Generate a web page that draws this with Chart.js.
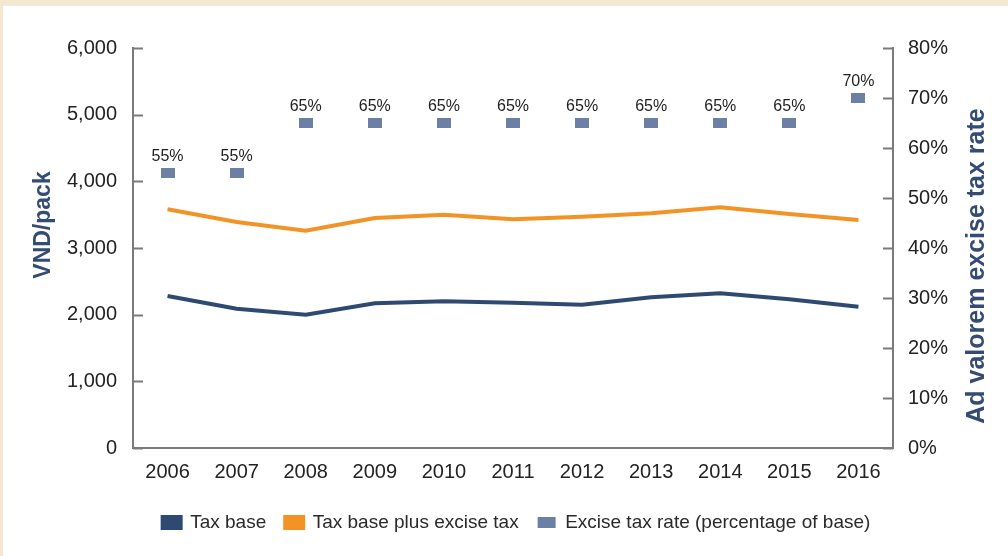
<!DOCTYPE html>
<html>
<head>
<meta charset="utf-8">
<script src="https://cdn.jsdelivr.net/npm/chart.js@4/dist/chart.umd.min.js"></script>
<style>
  html, body { margin: 0; padding: 0; background: #f4e8d3; }
  #panel { position: absolute; left: 3px; top: 6px; width: 1005px; height: 550px; background: #fff; }
</style>
</head>
<body>
<div id="panel"><canvas id="chart" width="1005" height="550"></canvas></div>
<script>
const years = ["2006", "2007", "2008", "2009", "2010", "2011", "2012", "2013", "2014", "2015", "2016"];
const taxBase = [2280, 2090, 2000, 2170, 2200, 2180, 2150, 2260, 2320, 2230, 2120];
const taxBasePlusExcise = [3580, 3390, 3260, 3450, 3500, 3430, 3470, 3520, 3610, 3510, 3420];
const exciseRate = [55, 55, 65, 65, 65, 65, 65, 65, 65, 65, 70];

const navy = "#2f4a72";
const orange = "#f39325";
const steel = "#6b80a4";
const axisGrey = "#7a7a7a";
const titleColor = "#344b74";
const font = "'Liberation Sans', Arial, sans-serif";

// small flat rectangle used as the excise rate marker
const marker = document.createElement("canvas");
marker.width = 14;
marker.height = 10;
const mctx = marker.getContext("2d");
mctx.fillStyle = steel;
mctx.fillRect(0, 0, 14, 10);

// tick marks that point into the plot area
const innerTicks = {
  id: "innerTicks",
  afterDraw(chart) {
    const ctx = chart.ctx;
    ctx.save();
    ctx.strokeStyle = axisGrey;
    ctx.lineWidth = 2;
    ["y", "y1"].forEach(id => {
      const s = chart.scales[id];
      const x = id === "y" ? s.right : s.left;
      const dir = id === "y" ? 1 : -1;
      s.ticks.forEach(t => {
        const py = Math.round(s.getPixelForValue(t.value)) + 0.5;
        ctx.beginPath();
        ctx.moveTo(x, py);
        ctx.lineTo(x + dir * 10, py);
        ctx.stroke();
      });
    });
    ctx.restore();
  }
};

// both axis titles read bottom-to-top
const axisTitles = {
  id: "axisTitles",
  afterDraw(chart) {
    const ctx = chart.ctx;
    const area = chart.chartArea;
    const draw = (text, x, y, size) => {
      ctx.save();
      ctx.translate(x, y);
      ctx.rotate(-Math.PI / 2);
      ctx.font = "bold " + size + "px " + font;
      ctx.fillStyle = titleColor;
      ctx.textAlign = "center";
      ctx.textBaseline = "middle";
      ctx.fillText(text, 0, 0);
      ctx.restore();
    };
    draw("VND/pack", chart.scales.y.left + 41, area.top + 177, 23);
    draw("Ad valorem excise tax rate", chart.scales.y1.right - 31, area.top + 218, 25);
  }
};

// legend sits a little right of the canvas centre in the original
const legendShift = {
  id: "legendShift",
  afterLayout(chart) {
    chart.legend.left += 11;
    chart.legend.right += 11;
  }
};

// percentage labels above the rate markers
const rateLabels = {
  id: "rateLabels",
  afterDatasetsDraw(chart) {
    const ctx = chart.ctx;
    const meta = chart.getDatasetMeta(2);
    ctx.save();
    ctx.font = "16px " + font;
    ctx.fillStyle = "#222";
    ctx.textAlign = "center";
    ctx.textBaseline = "alphabetic";
    meta.data.forEach((pt, i) => {
      ctx.fillText(exciseRate[i] + "%", pt.x, pt.y - 12);
    });
    ctx.restore();
  }
};

new Chart(document.getElementById("chart"), {
  type: "line",
  data: {
    labels: years,
    datasets: [
      {
        label: "Tax base",
        data: taxBase,
        borderColor: navy,
        backgroundColor: navy,
        borderWidth: 4,
        pointRadius: 0,
        yAxisID: "y"
      },
      {
        label: "Tax base plus excise tax",
        data: taxBasePlusExcise,
        borderColor: orange,
        backgroundColor: orange,
        borderWidth: 4,
        pointRadius: 0,
        yAxisID: "y"
      },
      {
        label: "Excise tax rate (percentage of base)",
        data: exciseRate,
        showLine: false,
        borderColor: steel,
        backgroundColor: steel,
        borderWidth: 0,
        pointStyle: marker,
        pointRadius: 7,
        yAxisID: "y1"
      }
    ]
  },
  options: {
    responsive: false,
    animation: false,
    events: [],
    layout: { padding: { top: 42, left: 0, right: 0, bottom: 14 } },
    plugins: {
      tooltip: { enabled: false },
      legend: {
        position: "bottom",
        labels: {
          boxWidth: 18,
          boxHeight: 11,
          padding: 19,
          color: "#2a2a2a",
          font: { family: font, size: 19 }
        }
      }
    },
    scales: {
      x: {
        offset: true,
        grid: { display: false, drawTicks: false },
        border: { display: true, color: axisGrey, width: 2 },
        ticks: { color: "#222", padding: 12, font: { family: font, size: 20 } },
        afterFit(s) { s.height = 46; }
      },
      y: {
        position: "left",
        min: 0,
        max: 6000,
        grid: { display: false, drawTicks: false },
        border: { display: true, color: axisGrey, width: 2 },
        ticks: {
          stepSize: 1000,
          color: "#222",
          padding: 16,
          font: { family: font, size: 20 },
          callback: v => v.toLocaleString("en-US")
        },
        afterFit(s) { s.width = 130; }
      },
      y1: {
        position: "right",
        min: 0,
        max: 80,
        grid: { display: false, drawTicks: false },
        border: { display: true, color: axisGrey, width: 2 },
        ticks: {
          stepSize: 10,
          color: "#222",
          padding: 15,
          font: { family: font, size: 20 },
          callback: v => v + "%"
        },
        afterFit(s) { s.width = 115; }
      }
    }
  },
  plugins: [innerTicks, axisTitles, legendShift, rateLabels]
});
</script>
</body>
</html>
